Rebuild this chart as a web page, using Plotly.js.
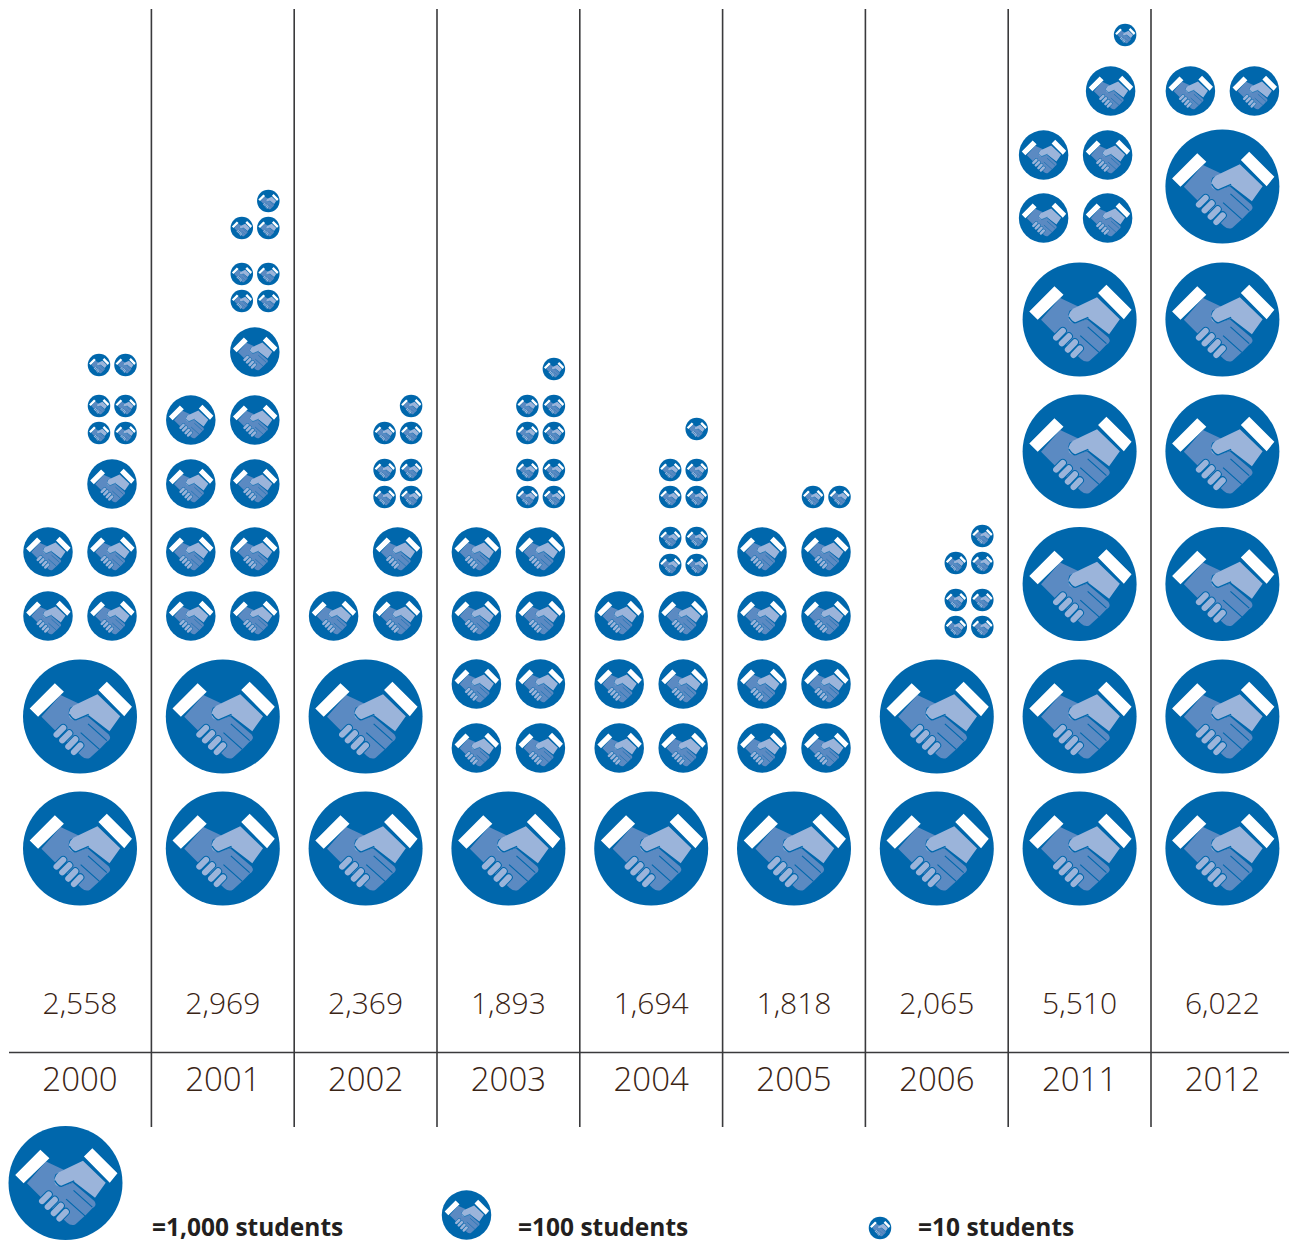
<!DOCTYPE html>
<html><head><meta charset="utf-8">
<script src="https://cdn.plot.ly/plotly-3.0.1.min.js"></script>
<style>html,body{margin:0;padding:0;background:#fff}#chart{width:1289px;height:1243px}</style>
</head><body><div id="chart"></div>
<script>
// ---- data ----
const years     = ['2000','2001','2002','2003','2004','2005','2006','2011','2012'];
const totals    = [2558,2969,2369,1893,1694,1818,2065,5510,6022];
const thousands = [2,2,2,1,1,1,2,5,6];
const hundreds  = [5,9,3,8,6,8,0,5,2];
const tens      = [6,7,7,9,9,2,7,1,0];
const legendLabels = ['=1,000 students','=100 students','=10 students'];

// ---- layout constants ----
const W = 1289, H = 1243, COL = 142.8, X0 = 80;
const px = p => (p - X0) / COL;
const BLUE = '#0067ac', TXT = '#3a2415';
const D = {big:114, mid:49.5, small:22.5};
const bigY = [848.5,716.5,584,451.5,319.5,186.5];
const midStartY = [616,616,616,748,748,748,0,218,91];
const midShift  = [0,0,0,0,0,0,0,-4,0];
const midPitch  = [[64,68],[64,68],[64,68],[64,68],[64,68],[64,68],[64,68],[63,64],[64,68]];
const smallStartY = [433,301,497,497,565,497,627,35,0];
const smallGap    = [41,46,37,37,41,37,37,0,0];

const svg = `<svg xmlns="http://www.w3.org/2000/svg" viewBox="40 34 340 340">
<path d="M95 205L152 140L206 165L180 178Q168 205 195 215L232 203L296 258Q306 272 290 279L272 298L240 327Q228 334 214 322L130 240Z" fill="#5b8ac2"/>
<path d="M262 138L330 203L298 248L236 200L198 215Q174 214 177 193Q180 180 190 172Z" fill="#9bb4da"/>
<path d="M178 197Q188 214 198 214L236 198" fill="none" stroke="#0067ac" stroke-width="4"/>
<path d="M212 252L268 302M234 226L290 276" stroke="#0067ac" stroke-width="3.5" fill="none"/>
<g stroke-linecap="round" fill="none">
<g stroke="#0067ac" stroke-width="24"><path d="M140 258L160 238M157 275L178 254M175 294L196 272M192 310L211 290"/></g>
<g stroke="#9bb4da" stroke-width="18"><path d="M140 258L160 238M157 275L178 254M175 294L196 272M192 310L211 290"/></g>
</g>
<path d="M135 105L162 130L85 205L60 180Z M290 100L365 175L342 203L265 125Z" fill="#fff"/>
</svg>`;
const ICON = 'data:image/svg+xml;charset=utf-8,' + encodeURIComponent(svg);

const big = {x:[],y:[]}, mid = {x:[],y:[]}, small = {x:[],y:[]};
years.forEach((yr,i) => {
  for (let k=0;k<thousands[i];k++){ big.x.push(i); big.y.push(bigY[k]); }
  // hundreds: pairs stacked upward, an odd one sits on the right
  let y = midStartY[i], left = hundreds[i];
  const sh = midShift[i]/COL, off = 32/COL;
  let r = 0;
  while (left > 0) {
    if (left >= 2) { mid.x.push(i-off+sh, i+off+sh); mid.y.push(y,y); left -= 2; }
    else { mid.x.push(i+off+(midShift[i]?-1/COL:0)); mid.y.push(y); left -= 1; }
    y -= midPitch[i][r%2]; r++;
  }
  // tens: pairs, stacked in blocks of two rows
  y = smallStartY[i]; left = tens[i]; r = 0;
  const a = 19/COL, b = 45.5/COL;
  while (left > 0) {
    if (left >= 2) { small.x.push(i+a,i+b); small.y.push(y,y); left -= 2; }
    else { small.x.push(i+b); small.y.push(y); left -= 1; }
    y -= (r%2===0) ? 27 : smallGap[i]; r++;
  }
});
const legIcons = {x:[px(65.5),px(466.5),px(880)], y:[1183,1215,1228], size:[D.big,D.mid,D.small]};

const marks = (o,size,name) => ({type:'scatter',mode:'markers',name,x:o.x,y:o.y,cliponaxis:false,hoverinfo:'name',
  marker:{size,color:BLUE,opacity:1,line:{width:0}}});
const traces = [
  marks(big,D.big,'1,000 students'),
  marks(mid,D.mid,'100 students'),
  marks(small,D.small,'10 students'),
  {type:'scatter',mode:'markers',x:legIcons.x,y:legIcons.y,cliponaxis:false,hoverinfo:'skip',marker:{size:legIcons.size,color:BLUE,opacity:1,line:{width:0}}},
  {type:'scatter',mode:'text',x:years.map((_,i)=>i),y:years.map(()=>1006.5),text:totals.map(v=>v.toLocaleString('en-US')),
   textposition:'middle center',cliponaxis:false,hoverinfo:'skip',
   textfont:{family:'"Open Sans",sans-serif',size:30,color:TXT,weight:300}},
  {type:'scatter',mode:'text',x:[px(152),px(518),px(918)],y:[1230,1230,1230],text:legendLabels,
   textposition:'middle right',cliponaxis:false,hoverinfo:'skip',
   textfont:{family:'"Open Sans",sans-serif',size:24.5,color:'#231f20',weight:700}}
];
const imgOf = (x,y,d) => ({source:ICON,xref:'x',yref:'y',x,y,sizex:d/COL,sizey:d,xanchor:'center',yanchor:'middle',sizing:'stretch',layer:'above'});
const images = [
  ...big.x.map((x,k)=>imgOf(x,big.y[k],D.big)),
  ...mid.x.map((x,k)=>imgOf(x,mid.y[k],D.mid)),
  ...small.x.map((x,k)=>imgOf(x,small.y[k],D.small)),
  ...legIcons.x.map((x,k)=>imgOf(x,legIcons.y[k],legIcons.size[k]))
];
const dividers = years.slice(0,-1).map((_,i)=>({type:'line',xref:'x',yref:'y',x0:i+.5,x1:i+.5,y0:9,y1:1127,line:{color:'#3a3a3c',width:1.6}}));
const baseline = {type:'line',xref:'x',yref:'y',x0:px(9),x1:px(W),y0:1052.5,y1:1052.5,line:{color:'#3a3a3c',width:1.6}};

Plotly.newPlot('chart',traces,{
  width:W,height:H,margin:{l:0,r:0,t:0,b:0,pad:0},paper_bgcolor:'#fff',plot_bgcolor:'#fff',showlegend:false,
  xaxis:{range:[px(0),px(W)],anchor:'free',position:(H-1057)/H,tickmode:'array',tickvals:years.map((_,i)=>i),ticktext:years,
    showgrid:false,zeroline:false,showline:false,ticks:'',ticklen:0,
    tickfont:{family:'"Open Sans",sans-serif',size:33,color:TXT,weight:300}},
  yaxis:{range:[H,0],visible:false,showgrid:false,zeroline:false},
  shapes:[...dividers,baseline],images
},{staticPlot:true,displayModeBar:false});
</script></body></html>
